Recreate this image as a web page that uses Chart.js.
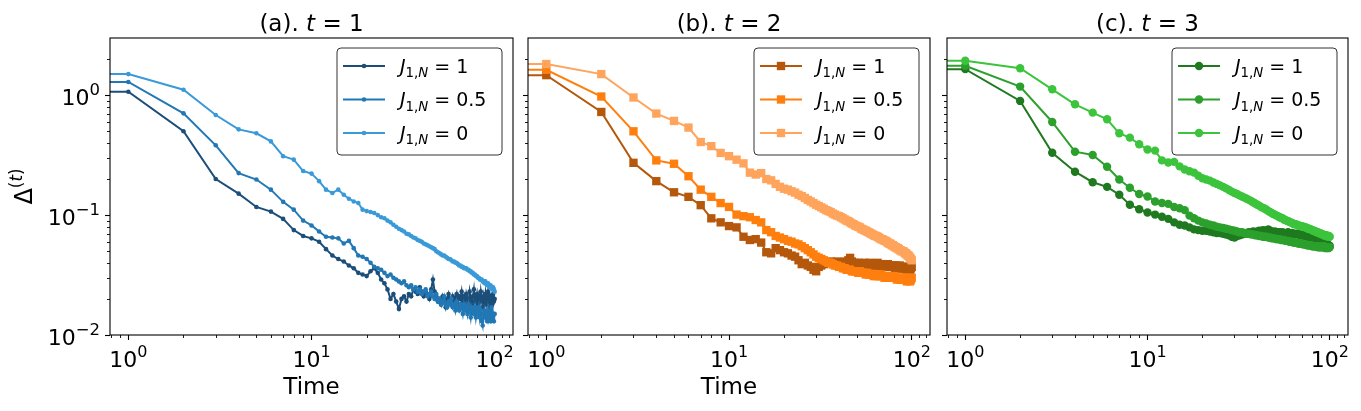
<!DOCTYPE html>
<html>
<head>
<meta charset="utf-8">
<script src="https://cdn.jsdelivr.net/npm/chart.js@4.4.1/dist/chart.umd.min.js"></script>
<style>
  body { margin: 0; background: #fff; }
  #wrap { position: relative; width: 1361px; height: 411px; background: #fff; }
  canvas { position: absolute; top: 0; }
</style>
</head>
<body>
<div id="wrap">
  <canvas id="pa" width="520" height="411" style="left:0px"></canvas>
  <canvas id="pb" width="420" height="411" style="left:520px"></canvas>
  <canvas id="pc" width="421" height="411" style="left:940px"></canvas>
</div>
<script>
// time steps (t = 0 sits off the log axis, as in the original plot)
const times = [
  0,
  1, 2, 3, 4, 5, 6, 7, 8, 9, 10,
  11, 12, 13, 14, 15, 16, 17, 18, 19, 20,
  21, 22, 23, 24, 25, 26, 27, 28, 29, 30,
  31, 32, 33, 34, 35, 36, 37, 38, 39, 40,
  41, 42, 43, 44, 45, 46, 47, 48, 49, 50,
  51, 52, 53, 54, 55, 56, 57, 58, 59, 60,
  61, 62, 63, 64, 65, 66, 67, 68, 69, 70,
  71, 72, 73, 74, 75, 76, 77, 78, 79, 80,
  81, 82, 83, 84, 85, 86, 87, 88, 89, 90,
  91, 92, 93, 94, 95, 96, 97, 98, 99, 100
];

const jLabels = ['1', '0.5', '0'];

// (a) t = 1
const a_J1 = [
  1.07,
  1.07, 0.50, 0.20, 0.151, 0.117, 0.107, 0.093, 0.075, 0.067, 0.064,
  0.060, 0.052, 0.046, 0.043, 0.041, 0.038, 0.036, 0.033, 0.032, 0.031,
  0.034, 0.036, 0.033, 0.029, 0.027, 0.024, 0.020, 0.022, 0.019, 0.0165,
  0.020, 0.021, 0.019, 0.022, 0.021, 0.024, 0.023, 0.022, 0.025, 0.023,
  0.021, 0.023, 0.022, 0.020, 0.024, 0.029, 0.023, 0.021, 0.019, 0.020,
  0.018, 0.021, 0.019, 0.017, 0.020, 0.022, 0.019, 0.018, 0.021, 0.019,
  0.020, 0.022, 0.018, 0.021, 0.020, 0.023, 0.019, 0.021, 0.018, 0.022,
  0.020, 0.019, 0.023, 0.020, 0.018, 0.021, 0.024, 0.019, 0.020, 0.022,
  0.018, 0.021, 0.019, 0.023, 0.020, 0.017, 0.021, 0.019, 0.022, 0.018,
  0.020, 0.023, 0.019, 0.017, 0.021, 0.020, 0.018, 0.022, 0.019, 0.020
];
const a_J05 = [
  1.29,
  1.29, 0.706, 0.382, 0.224, 0.198, 0.163, 0.129, 0.111, 0.090, 0.082,
  0.073, 0.066, 0.065, 0.064, 0.058, 0.061, 0.053, 0.046, 0.045, 0.043,
  0.040, 0.037, 0.036, 0.035, 0.033, 0.031, 0.032, 0.030, 0.029, 0.028,
  0.027, 0.028, 0.026, 0.025, 0.026, 0.024, 0.025, 0.023, 0.024, 0.022,
  0.023, 0.024, 0.021, 0.022, 0.023, 0.021, 0.020, 0.022, 0.019, 0.020,
  0.018, 0.019, 0.021, 0.018, 0.017, 0.019, 0.018, 0.020, 0.017, 0.018,
  0.016, 0.019, 0.017, 0.016, 0.018, 0.017, 0.015, 0.018, 0.016, 0.017,
  0.015, 0.018, 0.016, 0.014, 0.017, 0.016, 0.015, 0.017, 0.014, 0.016,
  0.015, 0.017, 0.014, 0.016, 0.013, 0.012, 0.015, 0.016, 0.014, 0.015,
  0.013, 0.016, 0.014, 0.015, 0.013, 0.017, 0.014, 0.015, 0.013, 0.015
];
const a_J0 = [
  1.50,
  1.50, 1.11, 0.684, 0.519, 0.481, 0.412, 0.310, 0.290, 0.233, 0.222,
  0.192, 0.163, 0.153, 0.163, 0.148, 0.137, 0.130, 0.126, 0.111, 0.108,
  0.106, 0.104, 0.100, 0.096, 0.094, 0.090, 0.087, 0.083, 0.080, 0.077,
  0.075, 0.073, 0.070, 0.069, 0.067, 0.065, 0.064, 0.062, 0.061, 0.060,
  0.058, 0.057, 0.056, 0.055, 0.054, 0.053, 0.052, 0.050, 0.049, 0.048,
  0.047, 0.046, 0.046, 0.045, 0.044, 0.043, 0.043, 0.042, 0.041, 0.041,
  0.040, 0.040, 0.039, 0.038, 0.038, 0.037, 0.037, 0.036, 0.036, 0.036,
  0.035, 0.035, 0.034, 0.034, 0.033, 0.033, 0.032, 0.032, 0.031, 0.031,
  0.030, 0.030, 0.029, 0.029, 0.029, 0.028, 0.028, 0.027, 0.028, 0.027,
  0.026, 0.027, 0.026, 0.025, 0.026, 0.025, 0.024, 0.025, 0.024, 0.023
];

// (b) t = 2
const b_J1 = [
  1.47,
  1.47, 0.725, 0.273, 0.192, 0.155, 0.142, 0.121, 0.094, 0.087, 0.081,
  0.079, 0.066, 0.062, 0.063, 0.059, 0.049, 0.048, 0.053, 0.051, 0.049,
  0.048, 0.046, 0.045, 0.042, 0.039, 0.040, 0.038, 0.037, 0.035, 0.034,
  0.037, 0.038, 0.039, 0.040, 0.040, 0.041, 0.039, 0.040, 0.041, 0.040,
  0.039, 0.040, 0.041, 0.040, 0.042, 0.044, 0.041, 0.039, 0.040, 0.039,
  0.040, 0.039, 0.038, 0.039, 0.040, 0.039, 0.038, 0.039, 0.040, 0.039,
  0.038, 0.039, 0.038, 0.039, 0.040, 0.038, 0.039, 0.038, 0.037, 0.039,
  0.038, 0.037, 0.038, 0.039, 0.038, 0.037, 0.038, 0.037, 0.038, 0.037,
  0.036, 0.038, 0.037, 0.036, 0.037, 0.038, 0.036, 0.037, 0.036, 0.037,
  0.036, 0.037, 0.036, 0.035, 0.036, 0.037, 0.036, 0.035, 0.036, 0.037
];
const b_J05 = [
  1.63,
  1.63, 0.975, 0.50, 0.286, 0.268, 0.211, 0.163, 0.142, 0.126, 0.117,
  0.101, 0.098, 0.096, 0.091, 0.087, 0.075, 0.072, 0.067, 0.065, 0.063,
  0.061, 0.060, 0.058, 0.057, 0.055, 0.053, 0.051, 0.049, 0.047, 0.045,
  0.044, 0.043, 0.042, 0.041, 0.040, 0.040, 0.039, 0.038, 0.038, 0.037,
  0.037, 0.036, 0.036, 0.035, 0.035, 0.035, 0.034, 0.034, 0.034, 0.034,
  0.033, 0.034, 0.033, 0.033, 0.033, 0.032, 0.033, 0.032, 0.032, 0.032,
  0.032, 0.031, 0.032, 0.031, 0.032, 0.031, 0.031, 0.032, 0.031, 0.031,
  0.030, 0.031, 0.031, 0.030, 0.031, 0.030, 0.031, 0.030, 0.030, 0.031,
  0.030, 0.030, 0.029, 0.030, 0.030, 0.029, 0.030, 0.029, 0.030, 0.029,
  0.029, 0.030, 0.029, 0.028, 0.029, 0.030, 0.029, 0.028, 0.029, 0.030
];
const b_J0 = [
  1.82,
  1.82, 1.50, 0.957, 0.703, 0.610, 0.537, 0.407, 0.376, 0.330, 0.310,
  0.290, 0.270, 0.226, 0.218, 0.224, 0.200, 0.195, 0.182, 0.172, 0.166,
  0.163, 0.158, 0.154, 0.148, 0.144, 0.139, 0.134, 0.130, 0.126, 0.122,
  0.119, 0.116, 0.113, 0.110, 0.108, 0.106, 0.103, 0.101, 0.099, 0.098,
  0.096, 0.094, 0.092, 0.090, 0.089, 0.087, 0.085, 0.084, 0.082, 0.081,
  0.080, 0.079, 0.077, 0.076, 0.075, 0.074, 0.073, 0.072, 0.071, 0.070,
  0.069, 0.068, 0.067, 0.067, 0.066, 0.065, 0.064, 0.063, 0.063, 0.062,
  0.061, 0.061, 0.060, 0.059, 0.058, 0.058, 0.057, 0.056, 0.056, 0.055,
  0.054, 0.054, 0.053, 0.053, 0.052, 0.051, 0.051, 0.050, 0.050, 0.050,
  0.049, 0.048, 0.048, 0.047, 0.046, 0.046, 0.045, 0.044, 0.043, 0.042
];

// (c) t = 3
const c_J1 = [
  1.65,
  1.65, 0.896, 0.331, 0.230, 0.188, 0.172, 0.148, 0.122, 0.112, 0.105,
  0.101, 0.097, 0.093, 0.087, 0.083, 0.082, 0.079, 0.076, 0.075, 0.074,
  0.074, 0.073, 0.072, 0.071, 0.071, 0.070, 0.069, 0.068, 0.066, 0.065,
  0.067, 0.068, 0.069, 0.070, 0.071, 0.072, 0.071, 0.073, 0.072, 0.073,
  0.074, 0.073, 0.075, 0.074, 0.073, 0.076, 0.074, 0.073, 0.072, 0.073,
  0.072, 0.071, 0.072, 0.071, 0.072, 0.071, 0.070, 0.071, 0.072, 0.071,
  0.070, 0.071, 0.070, 0.069, 0.070, 0.069, 0.070, 0.069, 0.068, 0.069,
  0.068, 0.067, 0.068, 0.067, 0.066, 0.067, 0.066, 0.065, 0.066, 0.065,
  0.064, 0.063, 0.064, 0.063, 0.062, 0.061, 0.062, 0.061, 0.060, 0.060,
  0.059, 0.058, 0.059, 0.058, 0.057, 0.058, 0.057, 0.056, 0.056, 0.055
];
const c_J05 = [
  1.76,
  1.76, 1.18, 0.598, 0.338, 0.317, 0.253, 0.198, 0.169, 0.150, 0.143,
  0.130, 0.126, 0.124, 0.117, 0.114, 0.110, 0.099, 0.094, 0.090, 0.087,
  0.085, 0.083, 0.082, 0.080, 0.079, 0.078, 0.077, 0.076, 0.075, 0.074,
  0.073, 0.072, 0.072, 0.071, 0.070, 0.070, 0.069, 0.069, 0.068, 0.068,
  0.067, 0.067, 0.066, 0.066, 0.066, 0.065, 0.065, 0.064, 0.064, 0.064,
  0.063, 0.063, 0.063, 0.062, 0.062, 0.062, 0.061, 0.061, 0.061, 0.060,
  0.060, 0.060, 0.059, 0.059, 0.059, 0.059, 0.058, 0.058, 0.058, 0.058,
  0.057, 0.057, 0.057, 0.057, 0.056, 0.056, 0.056, 0.056, 0.056, 0.055,
  0.055, 0.055, 0.055, 0.055, 0.055, 0.054, 0.055, 0.054, 0.054, 0.055,
  0.054, 0.054, 0.055, 0.054, 0.053, 0.054, 0.054, 0.053, 0.054, 0.054
];
const c_J0 = [
  1.94,
  1.94, 1.68, 1.12, 0.84, 0.716, 0.630, 0.481, 0.443, 0.390, 0.353,
  0.345, 0.286, 0.275, 0.278, 0.255, 0.240, 0.232, 0.226, 0.213, 0.203,
  0.198, 0.194, 0.187, 0.182, 0.177, 0.172, 0.167, 0.162, 0.157, 0.153,
  0.150, 0.146, 0.143, 0.140, 0.137, 0.134, 0.131, 0.128, 0.125, 0.122,
  0.120, 0.117, 0.115, 0.113, 0.111, 0.108, 0.106, 0.104, 0.102, 0.101,
  0.099, 0.098, 0.096, 0.095, 0.094, 0.092, 0.091, 0.090, 0.089, 0.088,
  0.087, 0.086, 0.085, 0.084, 0.084, 0.083, 0.082, 0.082, 0.081, 0.081,
  0.080, 0.080, 0.079, 0.079, 0.078, 0.077, 0.077, 0.076, 0.076, 0.075,
  0.074, 0.074, 0.073, 0.073, 0.072, 0.072, 0.071, 0.071, 0.070, 0.070,
  0.069, 0.069, 0.068, 0.068, 0.067, 0.068, 0.067, 0.066, 0.067, 0.066
];

// axis ticks
const xMajorTicks = [1, 10, 100];
const xTickExp = ['0', '1', '2'];
const xMinorTicks = [0.8, 0.9, 2, 3, 4, 5, 6, 7, 8, 9, 20, 30, 40, 50, 60, 70, 80, 90, 110, 120];
const yMajorTicks = [0.01, 0.1, 1];
const yTickExp = ['\u22122', '\u22121', '0'];
const yMinorTicks = [0.02, 0.03, 0.04, 0.05, 0.06, 0.07, 0.08, 0.09,
                     0.2, 0.3, 0.4, 0.5, 0.6, 0.7, 0.8, 0.9, 2];

const FAM = '"DejaVu Sans", sans-serif';
const F = (size, italic) => (italic ? 'italic ' : '') + size + 'px ' + FAM;

// draw a run of text pieces [text, font, dy]
function rich(ctx, parts, x, y, align) {
  let w = 0;
  parts.forEach(p => { ctx.font = p[1]; w += ctx.measureText(p[0]).width; });
  let cx = align === 'center' ? x - w / 2 : align === 'right' ? x - w : x;
  ctx.textAlign = 'left';
  parts.forEach(p => {
    ctx.font = p[1];
    ctx.fillText(p[0], cx, y + (p[2] || 0));
    cx += ctx.measureText(p[0]).width;
  });
}

function marker(ctx, style, r, x, y, color) {
  ctx.fillStyle = color;
  if (style === 'rect') {
    const s = Math.SQRT1_2 * r;
    ctx.fillRect(x - s, y - s, 2 * s, 2 * s);
  } else {
    ctx.beginPath();
    ctx.arc(x, y, r, 0, Math.PI * 2);
    ctx.fill();
  }
}

const decor = {
  id: 'decor',
  afterDraw(chart, args, o) {
    const {ctx, chartArea: a, scales: {x, y}} = chart;
    ctx.save();
    // minor ticks
    ctx.strokeStyle = '#000';
    ctx.lineWidth = 0.9;
    ctx.beginPath();
    xMinorTicks.forEach(v => {
      if (v < x.min || v > x.max) return;
      const px = Math.round(x.getPixelForValue(v)) + 0.5;
      ctx.moveTo(px, a.bottom); ctx.lineTo(px, a.bottom + 3);
    });
    yMinorTicks.forEach(v => {
      if (v < y.min || v > y.max) return;
      const py = Math.round(y.getPixelForValue(v)) + 0.5;
      ctx.moveTo(a.left - 3, py); ctx.lineTo(a.left, py);
    });
    ctx.stroke();
    // frame
    ctx.lineWidth = 1.1;
    ctx.strokeRect(a.left, a.top, a.right - a.left, a.bottom - a.top);

    ctx.fillStyle = '#000';
    ctx.textBaseline = 'alphabetic';
    // tick labels, 10 with a raised exponent
    xMajorTicks.forEach((v, i) => {
      rich(ctx, [['10', F(22)], [xTickExp[i], F(16), -10]], x.getPixelForValue(v), a.bottom + 31.5, 'center');
    });
    if (o.yLabel) {
      yMajorTicks.forEach((v, i) => {
        rich(ctx, [['10', F(22)], [yTickExp[i], F(16.5), -10]], a.left - 10, y.getPixelForValue(v) + 10, 'right');
      });
    }

    // title
    rich(ctx, [[o.tag + ' ', F(23)], ['t', F(23, true)], [' = ' + o.tval, F(23)]],
      (a.left + a.right) / 2, a.top - 7.5, 'center');

    // legend
    const W = 165, H = 107;
    const L = a.right - 11 - W, T = a.top + 10, rad = 4;
    ctx.beginPath();
    ctx.moveTo(L + rad, T);
    ctx.arcTo(L + W, T, L + W, T + H, rad);
    ctx.arcTo(L + W, T + H, L, T + H, rad);
    ctx.arcTo(L, T + H, L, T, rad);
    ctx.arcTo(L, T, L + W, T, rad);
    ctx.closePath();
    ctx.fillStyle = 'rgba(255,255,255,0.85)';
    ctx.fill();
    ctx.strokeStyle = '#333';
    ctx.lineWidth = 1;
    ctx.stroke();
    o.colors.forEach((c, i) => {
      const cy = T + 18 + i * 33.5;
      ctx.strokeStyle = c;
      ctx.lineWidth = 2;
      ctx.beginPath();
      ctx.moveTo(L + 6, cy); ctx.lineTo(L + 48, cy);
      ctx.stroke();
      marker(ctx, o.style, o.radius, L + 27, cy, c);
      ctx.fillStyle = '#000';
      rich(ctx, [['J', F(19, true)], ['1,', F(13.3), 4.5], ['N', F(13.3, true), 4.5],
        [' = ' + jLabels[i], F(19)]], L + 63, cy + 6.8, 'left');
    });

    // y label
    if (o.yLabel) {
      ctx.translate(32, (a.top + a.bottom) / 2);
      ctx.rotate(-Math.PI / 2);
      ctx.fillStyle = '#000';
      rich(ctx, [['Δ', F(24)], ['(', F(16.8), -10], ['t', F(16.8, true), -10], [')', F(16.8), -10]],
        0, 0, 'center');
    }
    ctx.restore();
  }
};

function makePanel(id, cfg) {
  const datasets = cfg.series.map((vals, i) => ({
    label: 'J = ' + jLabels[i],
    data: times.map((t, k) => ({x: t, y: vals[k]})),
    borderColor: cfg.colors[i],
    backgroundColor: cfg.colors[i],
    pointBackgroundColor: cfg.colors[i],
    pointBorderWidth: 0,
    pointRadius: c => (times[c.dataIndex] > 0 ? cfg.radius : 0),
    pointStyle: cfg.style,
    borderWidth: 2,
    order: 2 - i
  }));
  new Chart(document.getElementById(id), {
    type: 'line',
    data: {datasets},
    plugins: [decor],
    options: {
      responsive: false,
      animation: false,
      events: [],
      layout: {autoPadding: false, padding: {left: 0, right: cfg.padRight, top: 38, bottom: 0}},
      plugins: {
        legend: {display: false},
        tooltip: {enabled: false},
        title: {display: false},
        decor: {tag: cfg.tag, tval: cfg.tval, colors: cfg.colors, style: cfg.style,
                radius: cfg.radius, yLabel: cfg.yLabel}
      },
      scales: {
        x: {
          type: 'logarithmic',
          min: 0.794,
          max: 125.9,
          afterBuildTicks: s => { s.ticks = xMajorTicks.map(v => ({value: v})); },
          afterFit: s => { s.height = 76; },
          ticks: {display: false, autoSkip: false, maxRotation: 0},
          grid: {drawOnChartArea: false, drawTicks: true, tickLength: 5, tickColor: '#000', tickWidth: 1.1},
          border: {display: false},
          title: {
            display: cfg.xTitle, text: 'Time', color: '#000',
            font: {family: FAM, size: 23}, padding: {top: 0, bottom: 8.7}
          }
        },
        y: {
          type: 'logarithmic',
          min: 0.01,
          max: 3,
          afterBuildTicks: s => { s.ticks = yMajorTicks.map(v => ({value: v})); },
          afterFit: s => { s.width = cfg.yWidth; },
          ticks: {display: false, autoSkip: false},
          grid: {drawOnChartArea: false, drawTicks: true, tickLength: 5, tickColor: '#000', tickWidth: 1.1},
          border: {display: false}
        }
      }
    }
  });
}

makePanel('pa', {
  tag: '(a).', tval: '1', series: [a_J1, a_J05, a_J0],
  colors: ['#1c4e7a', '#2277b5', '#3a9ad8'],
  style: 'circle', radius: 2.3, yLabel: true, xTitle: true, yWidth: 110, padRight: 7
});
makePanel('pb', {
  tag: '(b).', tval: '2', series: [b_J1, b_J05, b_J0],
  colors: ['#b5580b', '#ff7f0e', '#ffa45c'],
  style: 'rect', radius: 5.9, yLabel: false, xTitle: true, yWidth: 8, padRight: 10
});
makePanel('pc', {
  tag: '(c).', tval: '3', series: [c_J1, c_J05, c_J0],
  colors: ['#1f7a1f', '#2ca02c', '#3cc43c'],
  style: 'circle', radius: 4.2, yLabel: false, xTitle: false, yWidth: 7, padRight: 13
});
</script>
</body>
</html>
